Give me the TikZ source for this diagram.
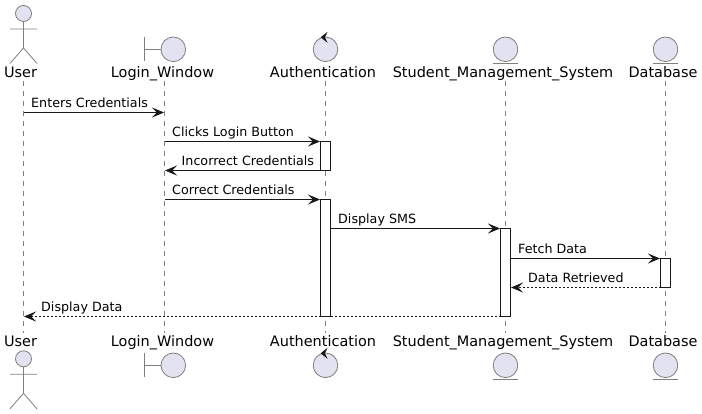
\documentclass[tikz,border=0pt]{standalone}
\usepackage{fontspec}
\setmainfont{DejaVu Sans}
\usetikzlibrary{arrows.meta,backgrounds}
\definecolor{partfill}{HTML}{E2E2F0}
\definecolor{partline}{HTML}{7F7F7F}
\definecolor{lifegray}{HTML}{808080}
\definecolor{barline}{HTML}{181818}
\begin{document}
\begin{tikzpicture}[x=1pt,y=-1pt,
                    partname/.style={anchor=base,inner sep=0pt,font=\fontsize{14.45}{16}\selectfont},
                    msgtext/.style={anchor=base west,inner sep=0pt,font=\fontsize{12.7}{15}\selectfont},
                    icon/.style={draw=partline,line width=0.8pt,fill=partfill},
                    stick/.style={draw=partline,line width=0.8pt},
                    life/.style={draw=lifegray,line width=0.8pt,dash pattern=on 5pt off 5pt},
                    bar/.style={draw=barline,fill=white,line width=1pt,minimum width=10pt,inner sep=0pt,outer sep=0pt},
                    msg/.style={draw=barline,line width=1pt,-{Stealth[length=12pt,width=10pt,inset=5pt]},shorten >=0.5pt},
                    reply/.style={msg,line width=0.9pt,dash pattern=on 2pt off 2pt}]
    \useasboundingbox (0,0) rectangle (702,414);
    % lifeline ends
    \coordinate (userT) at (23.5,81);    \coordinate (userB) at (23.5,333);
    \coordinate (loginT) at (164.5,81);  \coordinate (loginB) at (164.5,333);
    \coordinate (authT) at (325.5,81);   \coordinate (authB) at (325.5,333);
    \coordinate (smsT) at (505.5,81);    \coordinate (smsB) at (505.5,333);
    \coordinate (dbT) at (665.5,81);     \coordinate (dbB) at (665.5,333);
    % activation bars
    \node (authOne) at (325.5,156) [bar,minimum height=29pt] {};
    \node (authTwo) at (325.5,258) [bar,minimum height=117pt] {};
    \node (smsOne) at (505.5,272.5) [bar,minimum height=88pt] {};
    \node (dbOne) at (665.5,273) [bar,minimum height=29pt] {};
    % free ends of the messages
    \coordinate (userA) at (23.5,112.5);   \coordinate (loginA) at (164.5,112.5);
    \coordinate (loginC) at (164.5,141.5); \coordinate (loginD) at (164.5,170.5);
    \coordinate (loginE) at (164.5,199.5); \coordinate (userF) at (23.5,316.5);
    \begin{scope}[on background layer]
        \draw [life] (userT) -- (userB);
        \draw [life] (loginT) -- (loginB);
        \draw [life] (authT) -- (authB);
        \draw [life] (smsT) -- (smsB);
        \draw [life] (dbT) -- (dbB);
        \draw [reply] (smsOne.south west) -- (userF);
    \end{scope}
    % messages
    \draw [msg] (userA) -- (loginA);
    \draw [msg] (loginC) -- (authOne.north west);
    \draw [msg] (authOne.south west) -- (loginD);
    \draw [msg] (loginE) -- (authTwo.north west);
    \draw [msg] (authTwo.east |- smsOne.north) -- (smsOne.north west);
    \draw [msg] (smsOne.east |- dbOne.north) -- (dbOne.north west);
    \draw [reply] (dbOne.south west) -- (smsOne.east |- dbOne.south);
    \node (msgEnters) at (31,107.5) [msgtext] {Enters Credentials};
    \node (msgClicks) at (172,136.5) [msgtext] {Clicks Login Button};
    \node (msgWrong) at (181.5,165.5) [msgtext] {Incorrect Credentials};
    \node (msgRight) at (172,195) [msgtext] {Correct Credentials};
    \node (msgSms) at (338,224) [msgtext] {Display SMS};
    \node (msgFetch) at (518,253.5) [msgtext] {Fetch Data};
    \node (msgBack) at (528,282.5) [msgtext] {Data Retrieved};
    \node (msgData) at (41,311.5) [msgtext] {Display Data};
    % names, top and bottom
    \foreach \y/\s in {78/T,346/B} {
        \node (userN\s) at (20.5,\y) [partname] {User};
        \node (loginN\s) at (162.5,\y) [partname] {Login\_Window};
        \node (authN\s) at (323,\y) [partname] {Authentication};
        \node (smsN\s) at (503,\y) [partname] {Student\_Management\_System};
        \node (dbN\s) at (663,\y) [partname] {Database};
    }
    % actor
    \foreach \y in {0,345.3} {
        \begin{scope}[yshift=-\y pt]
            \draw [icon] (23.5,13.5) circle [radius=8];
            \draw [stick] (23.5,21.5) -- (23.5,48) (10,29) -- (37,29)
                          (10,63.5) -- (23.5,48) -- (37,63.5);
        \end{scope}
    }
    % boundary, control, entity
    \foreach \y in {49.3,365.3} {
        \draw [stick] (144.5,\y-12) -- (144.5,\y+12) (144.5,\y) -- (161,\y);
        \draw [icon] (173.3,\y) circle [radius=12.3];
        \draw [icon] (325.5,\y) circle [radius=12.3];
        \fill [barline] (320.7,\y-12) -- (327.5,\y-17.5) -- (325,\y-12) -- (327.5,\y-6.5) -- cycle;
        \draw [icon] (505.5,\y) circle [radius=12.3];
        \draw [stick] (493,\y+14) -- (518,\y+14);
        \draw [icon] (665.5,\y) circle [radius=12.3];
        \draw [stick] (653,\y+14) -- (678,\y+14);
    }
\end{tikzpicture}
\end{document}
